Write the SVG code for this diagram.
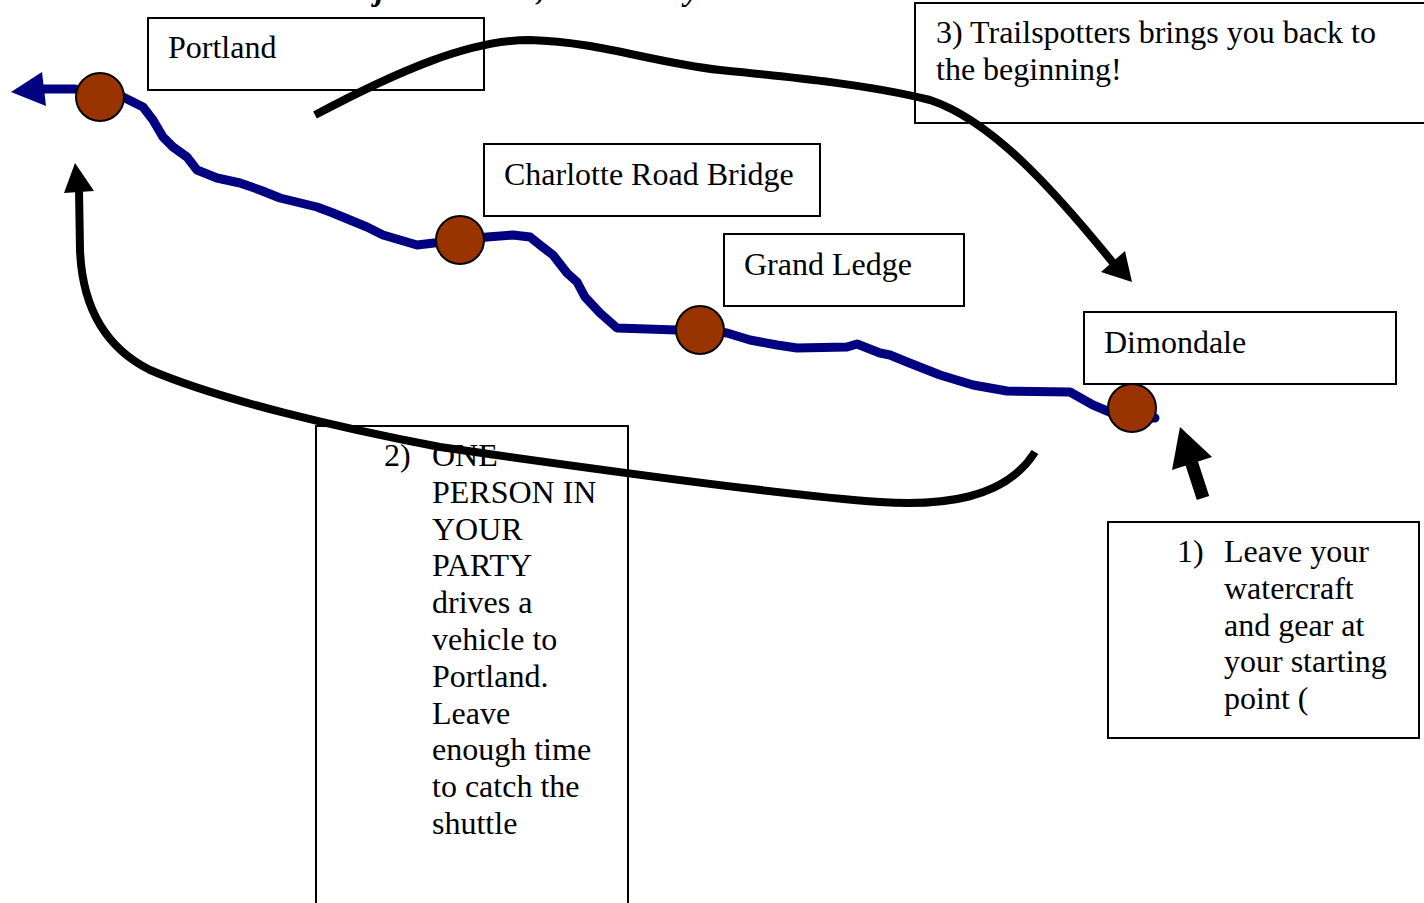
<svg xmlns="http://www.w3.org/2000/svg" width="1424" height="903" viewBox="0 0 1424 903">
<style>
.box{fill:#fff;stroke:#000;stroke-width:2}
.t{font-family:"Liberation Serif","Times New Roman",serif;font-size:32px;fill:#000}
.title{font-family:"Liberation Serif","Times New Roman",serif;font-size:32px;font-weight:bold;font-style:italic;fill:#000}
.river{fill:none;stroke:#000080;stroke-width:9;stroke-linejoin:round;stroke-linecap:round}
.node{fill:#993300;stroke:#000;stroke-width:2}
.arrow{fill:none;stroke:#000;stroke-width:8}
</style>
<rect width="1424" height="903" fill="#fff"/>
<text class="title" x="266" y="0">Our Project Shuttles, Made Easy</text>
<g id="box-portland"><rect class="box" x="148" y="18" width="336" height="72"/><text class="t" x="168" y="58">Portland</text></g>
<g id="box-charlotte"><rect class="box" x="484" y="144" width="336" height="72"/><text class="t" x="504" y="185">Charlotte Road Bridge</text></g>
<g id="box-grandledge"><rect class="box" x="724" y="234" width="240" height="72"/><text class="t" x="744" y="275">Grand Ledge</text></g>
<g id="box-dimondale"><rect class="box" x="1084" y="312" width="312" height="72"/><text class="t" x="1104" y="353">Dimondale</text></g>
<g id="box-step3"><rect class="box" x="915" y="3" width="520" height="120"/><text class="t" x="936" y="43">3) Trailspotters brings you back to</text><text class="t" x="936" y="80">the beginning!</text></g>
<g id="box-step2"><rect class="box" x="316" y="426" width="312" height="490"/>
<text class="t" x="384" y="466">2)</text>
<text class="t" x="432" y="466">ONE</text>
<text class="t" x="432" y="503">PERSON IN</text>
<text class="t" x="432" y="540">YOUR</text>
<text class="t" x="432" y="576">PARTY</text>
<text class="t" x="432" y="613">drives a</text>
<text class="t" x="432" y="650">vehicle to</text>
<text class="t" x="432" y="687">Portland.</text>
<text class="t" x="432" y="724">Leave</text>
<text class="t" x="432" y="760">enough time</text>
<text class="t" x="432" y="797">to catch the</text>
<text class="t" x="432" y="834">shuttle</text>
</g>
<g id="box-step1"><rect class="box" x="1108" y="522" width="311" height="216"/>
<text class="t" x="1177" y="562">1)</text>
<text class="t" x="1224" y="562">Leave your</text>
<text class="t" x="1224" y="599">watercraft</text>
<text class="t" x="1224" y="636">and gear at</text>
<text class="t" x="1224" y="672">your starting</text>
<text class="t" x="1224" y="709">point (</text>
</g>
<g id="river">
<path class="river" d="M44,89 L75,89 L100,97 L123,97 L143,107 L153,120 L163,137 L173,147 L187,157 L197,170 L217,178 L240,183 L260,190 L280,198 L317,207 L333,213 L350,220 L367,227 L383,235 L417,245 L460,240 L487,237 L513,235 L530,237 L540,245 L553,255 L567,273 L577,282 L585,297 L600,313 L617,328 L677,330 L700,330 L727,333 L750,340 L777,345 L797,348 L847,347 L857,344 L880,353 L890,355 L907,362 L940,375 L973,385 L1007,391 L1070,392 L1093,405 L1112,413 L1135,418 L1155,418"/>
<polygon points="11,92 42,72 46,106" fill="#000080"/>
</g>
<g id="node-portland"><circle class="node" cx="100" cy="97" r="24"/></g>
<g id="node-charlotte"><circle class="node" cx="460" cy="240" r="24"/></g>
<g id="node-grandledge"><circle class="node" cx="700" cy="330" r="24"/></g>
<g id="node-dimondale"><circle class="node" cx="1132" cy="408" r="24"/></g>
<g id="connectors">
<path class="arrow" d="M315,115 C400,70 470,40 530,40 C600,42 650,62 720,70 C800,78 870,85 930,100 C990,120 1050,185 1114,264"/>
<polygon points="1132,282 1101,272 1125,251" fill="#000"/>
<path class="arrow" d="M1035,452 C1005,500 940,506 880,502 C780,495 600,470 440,447 C340,428 220,400 150,370 C100,345 82,300 80,250 L79,190"/>
<polygon points="75,163 64,193 94,191" fill="#000"/>
<line x1="1203" y1="498" x2="1190" y2="458" stroke="#000" stroke-width="13"/>
<polygon points="1180,427 1172,470 1212,457" fill="#000"/>
</g>
</svg>
